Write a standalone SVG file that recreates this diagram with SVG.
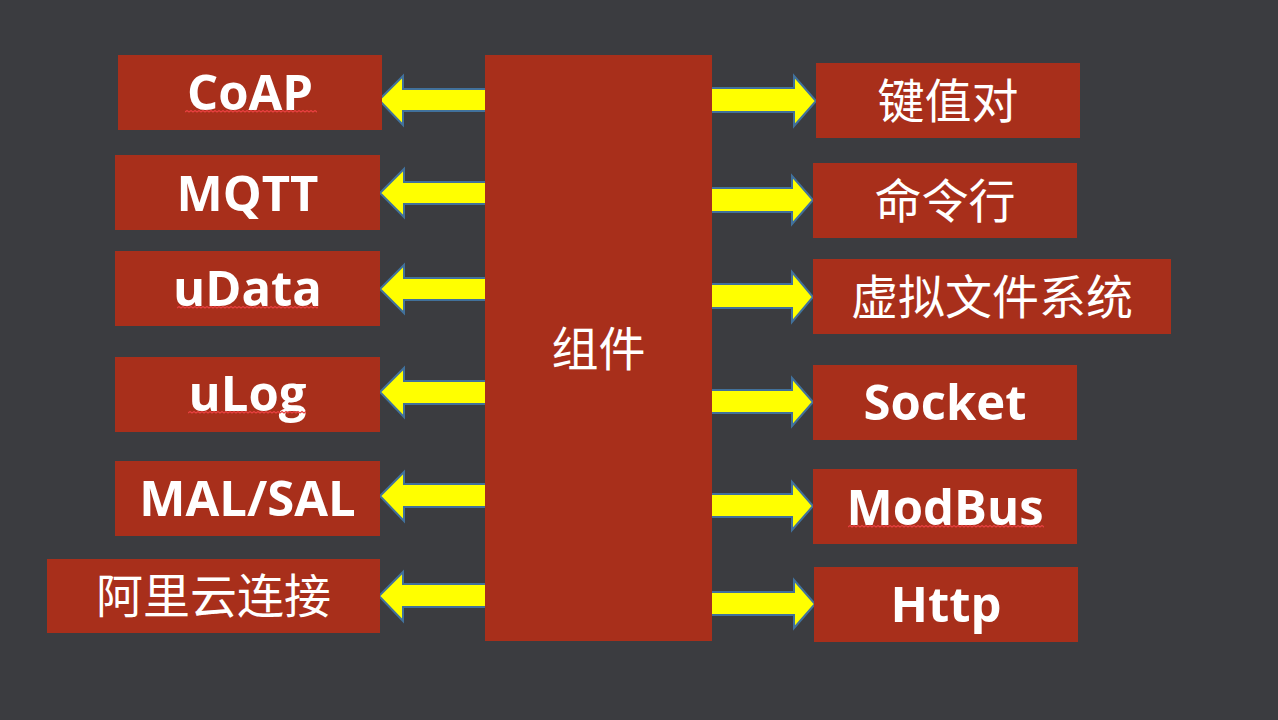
<svg xmlns="http://www.w3.org/2000/svg" width="1278" height="720" viewBox="0 0 1278 720">
<style>
.box{fill:#A82F1B}
.arr{fill:#FFFF00;stroke:#41719C;stroke-width:2;stroke-linejoin:miter}
.lat{font-family:"Open Sans","Liberation Sans",sans-serif;font-weight:bold;font-size:49px;fill:#FFFFFF;text-anchor:middle}
.cjk{font-family:"Noto Sans CJK SC","Noto Sans",sans-serif;font-size:47px;fill:#FFFFFF;text-anchor:middle}
.sq{fill:none;stroke:#E84040;stroke-width:1.2}
</style>
<defs>
<path id="wave" d="M0,1.5 l2,-1.5 l2,1.5 l2,-1.5 l2,1.5 l2,-1.5 l2,1.5 l2,-1.5 l2,1.5 l2,-1.5 l2,1.5 l2,-1.5 l2,1.5 l2,-1.5 l2,1.5 l2,-1.5 l2,1.5 l2,-1.5 l2,1.5 l2,-1.5 l2,1.5 l2,-1.5 l2,1.5 l2,-1.5 l2,1.5 l2,-1.5 l2,1.5 l2,-1.5 l2,1.5 l2,-1.5 l2,1.5 l2,-1.5 l2,1.5 l2,-1.5 l2,1.5 l2,-1.5 l2,1.5 l2,-1.5 l2,1.5 l2,-1.5 l2,1.5 l2,-1.5 l2,1.5 l2,-1.5 l2,1.5 l2,-1.5 l2,1.5 l2,-1.5 l2,1.5 l2,-1.5 l2,1.5 l2,-1.5 l2,1.5 l2,-1.5 l2,1.5 l2,-1.5 l2,1.5 l2,-1.5 l2,1.5 l2,-1.5 l2,1.5 l2,-1.5 l2,1.5 l2,-1.5 l2,1.5 l2,-1.5 l2,1.5 l2,-1.5 l2,1.5 l2,-1.5 l2,1.5 l2,-1.5 l2,1.5 l2,-1.5 l2,1.5 l2,-1.5 l2,1.5 l2,-1.5 l2,1.5 l2,-1.5 l2,1.5 l2,-1.5 l2,1.5 l2,-1.5 l2,1.5 l2,-1.5 l2,1.5 l2,-1.5 l2,1.5 l2,-1.5 l2,1.5 l2,-1.5 l2,1.5 l2,-1.5 l2,1.5 l2,-1.5 l2,1.5 l2,-1.5 l2,1.5 l2,-1.5 l2,1.5 l2,-1.5 l2,1.5 l2,-1.5 l2,1.5 l2,-1.5 l2,1.5 l2,-1.5"/>
<clipPath id="c1"><rect x="185" y="100" width="132" height="20"/></clipPath>
<clipPath id="c2"><rect x="177" y="296" width="141" height="20"/></clipPath>
<clipPath id="c3"><rect x="188" y="402" width="118" height="20"/></clipPath>
<clipPath id="c4"><rect x="848" y="517" width="196" height="20"/></clipPath>
</defs>
<rect width="1278" height="720" fill="#3B3C40"/>
<g id="connectors">
<polygon class="arr" points="379,100 403,76 403,89 486,89 486,111 403,111 403,125"/>
<polygon class="arr" points="380,193 404,169 404,182 486,182 486,204 404,204 404,217"/>
<polygon class="arr" points="380,289 404,265 404,278 486,278 486,300 404,300 404,313"/>
<polygon class="arr" points="380,392 404,368 404,381 486,381 486,404 404,404 404,417"/>
<polygon class="arr" points="380,496 404,472 404,484 486,484 486,507 404,507 404,521"/>
<polygon class="arr" points="379,596 403,572 403,584 486,584 486,607 403,607 403,621"/>
<polygon class="arr" points="711,88 794,88 794,76 816,101 794,126 794,112 711,112"/>
<polygon class="arr" points="711,188 792,188 792,176 813,200 792,224 792,212 711,212"/>
<polygon class="arr" points="711,284 792,284 792,272 813,297 792,322 792,308 711,308"/>
<polygon class="arr" points="711,390 792,390 792,378 813,402 792,426 792,413 711,413"/>
<polygon class="arr" points="711,494 792,494 792,482 813,506 792,530 792,517 711,517"/>
<polygon class="arr" points="711,592 794,592 794,580 815,604 794,628 794,615 711,615"/>
</g>
<g id="center">
<rect class="box" x="485" y="55" width="227" height="586"/>
<text class="cjk" x="598.5" y="366">组件</text>
</g>
<g id="coap">
<rect class="box" x="118" y="55" width="264" height="75"/>
<text class="lat" x="250" y="110">CoAP</text>
<g clip-path="url(#c1)"><use href="#wave" class="sq" x="185" y="110.5"/></g>
</g>
<g id="mqtt">
<rect class="box" x="115" y="155" width="265" height="75"/>
<text class="lat" x="247.5" y="211">MQTT</text>
</g>
<g id="udata">
<rect class="box" x="115" y="251" width="265" height="75"/>
<text class="lat" x="247.5" y="306">uData</text>
<g clip-path="url(#c2)"><use href="#wave" class="sq" x="177" y="306.5"/></g>
</g>
<g id="ulog">
<rect class="box" x="115" y="357" width="265" height="75"/>
<text class="lat" x="247.5" y="411">uLog</text>
<g clip-path="url(#c3)"><use href="#wave" class="sq" x="188" y="411.5"/></g>
</g>
<g id="malsal">
<rect class="box" x="115" y="461" width="265" height="75"/>
<text class="lat" x="247.5" y="516">MAL/SAL</text>
</g>
<g id="aliyun">
<rect class="box" x="47" y="559" width="333" height="74"/>
<text class="cjk" x="213.5" y="613">阿里云连接</text>
</g>
<g id="kv">
<rect class="box" x="816" y="63" width="264" height="75"/>
<text class="cjk" x="948" y="118">键值对</text>
</g>
<g id="cmd">
<rect class="box" x="813" y="163" width="264" height="75"/>
<text class="cjk" x="945" y="218">命令行</text>
</g>
<g id="vfs">
<rect class="box" x="813" y="259" width="358" height="75"/>
<text class="cjk" x="992" y="314">虚拟文件系统</text>
</g>
<g id="socket">
<rect class="box" x="813" y="365" width="264" height="75"/>
<text class="lat" x="945" y="420">Socket</text>
</g>
<g id="modbus">
<rect class="box" x="813" y="469" width="264" height="75"/>
<text class="lat" x="945" y="525">ModBus</text>
<g clip-path="url(#c4)"><use href="#wave" class="sq" x="848" y="525.5"/></g>
</g>
<g id="http">
<rect class="box" x="814" y="567" width="264" height="75"/>
<text class="lat" x="946" y="622">Http</text>
</g>
</svg>
